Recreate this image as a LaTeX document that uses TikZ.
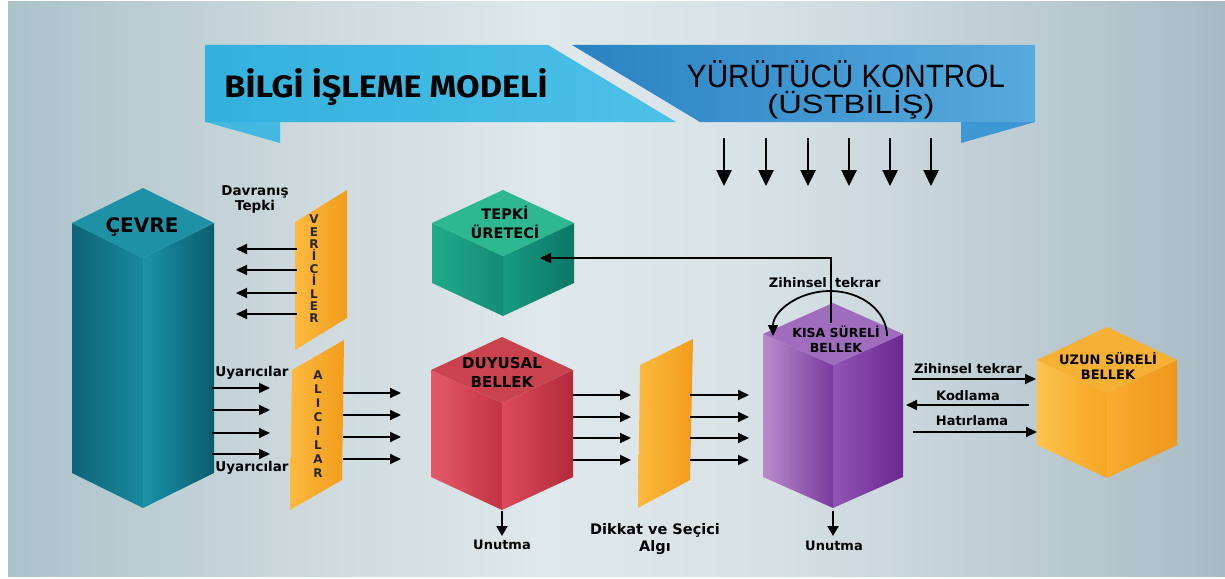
\documentclass[tikz,border=0pt]{standalone}
\usepackage{graphicx}
\usepackage{fontspec}
\setmainfont{DejaVu Sans}
\newfontfamily\titlef{Fira Sans}
\newfontfamily\arialf{Liberation Sans}
\usetikzlibrary{arrows.meta}
% colours
\definecolor{bg1}{HTML}{ABC2C9}
\definecolor{bg2}{HTML}{CDD9DD}
\definecolor{bg3}{HTML}{DFE8EB}
\definecolor{bg4}{HTML}{D8E2E6}
\definecolor{bg5}{HTML}{B5C6CD}
\definecolor{bg6}{HTML}{A7BAC2}
\pgfdeclarehorizontalshading{bgsh}{100bp}{color(0bp)=(bg1); color(25bp)=(bg1); color(37bp)=(bg2); color(47bp)=(bg3); color(56bp)=(bg4); color(70bp)=(bg5); color(75bp)=(bg6); color(100bp)=(bg6)}
\definecolor{banA}{HTML}{33B1DD}
\definecolor{banB}{HTML}{4DC1E8}
\definecolor{banfold}{HTML}{45B8E2}
\definecolor{darkA}{HTML}{2A82C3}
\definecolor{darkB}{HTML}{56AADD}
\definecolor{darkfold}{HTML}{3E97D2}
\definecolor{cevtop}{HTML}{1F91A4}
\definecolor{cevla}{HTML}{0D6376}
\definecolor{cevlb}{HTML}{1A8A9D}
\definecolor{cevra}{HTML}{1A94A8}
\definecolor{cevrb}{HTML}{0B5C6D}
\definecolor{teptop}{HTML}{2DB891}
\definecolor{tepla}{HTML}{22AA88}
\definecolor{teplb}{HTML}{128C76}
\definecolor{tepra}{HTML}{179A80}
\definecolor{teprb}{HTML}{0C7868}
\definecolor{duytop}{HTML}{C9434F}
\definecolor{duyla}{HTML}{E45A69}
\definecolor{duylb}{HTML}{C23244}
\definecolor{duyra}{HTML}{DC4B5C}
\definecolor{duyrb}{HTML}{B3293B}
\definecolor{kistop}{HTML}{A06CBD}
\definecolor{kisla}{HTML}{B88CCB}
\definecolor{kislb}{HTML}{7A3A9E}
\definecolor{kisra}{HTML}{9154B5}
\definecolor{kisrb}{HTML}{6A2890}
\definecolor{uzutop}{HTML}{F6B034}
\definecolor{uzula}{HTML}{FDC24C}
\definecolor{uzulb}{HTML}{F5A624}
\definecolor{uzura}{HTML}{F8AC30}
\definecolor{uzurb}{HTML}{EE961C}
\definecolor{panA}{HTML}{FBBA40}
\definecolor{panB}{HTML}{F39C1A}
\newcommand\prism[7]{%
 \coordinate (#1-t) at (#2,#3);
 \coordinate (#1-l) at ({#2-#4},{#3+#5});
 \coordinate (#1-c) at (#2,{#3+2*#5});
 \coordinate (#1-r) at ({#2+#4},{#3+#5});
 \coordinate (#1-lb) at ({#2-#4},{#3+#5+#6});
 \coordinate (#1-b) at (#2,{#3+2*#5+#6});
 \coordinate (#1-rb) at ({#2+#4},{#3+#5+#6});
 \shade[left color=#7la,right color=#7lb] (#1-l) -- (#1-c) -- (#1-b) -- (#1-lb) -- cycle;
 \shade[left color=#7ra,right color=#7rb] (#1-c) -- (#1-r) -- (#1-rb) -- (#1-b) -- cycle;
 \fill[#7top] (#1-t) -- (#1-r) -- (#1-c) -- (#1-l) -- cycle;
}
\tikzset{
 arr/.style={line width=1.8pt,-{Triangle[length=11pt,width=10pt]}},
 bigarr/.style={line width=2.6pt,-{Triangle[length=16pt,width=15pt]}},
 downarr/.style={line width=2.2pt,-{Triangle[length=10pt,width=11pt]}},
 lbl/.style={font=\fontsize{13}{15}\selectfont\bfseries,inner sep=0pt,align=center},
 cubelbl/.style={font=\fontsize{14.5}{19}\selectfont\bfseries,inner sep=0pt,align=center},
 panlbl/.style={font=\fontsize{12}{12.4}\selectfont\bfseries,inner sep=0pt,align=center,text=black!85},
}
\begin{document}
\begin{tikzpicture}[x=1pt,y=-1pt]
\useasboundingbox (0,0) rectangle (1225,578);
\fill[white] (0,0) rectangle (1225,578);
\shade[shading=bgsh] (8,2) rectangle (1225,576);

% banners
\shade[left color=banA,right color=banB] (205,45) -- (548,45) -- (676,122) -- (205,122) -- cycle;
\fill[banfold] (206,122) -- (280,122) -- (280,143) -- cycle;
\shade[left color=darkA,right color=darkB] (572,45) -- (1035,45) -- (1035,122) -- (700,122) -- cycle;
\fill[darkfold] (961,122) -- (1035,122) -- (961,143) -- cycle;
\node[anchor=base,inner sep=0pt] (title) at (386,97) {\resizebox{323pt}{29pt}{\titlef\bfseries BİLGİ İŞLEME MODELİ}};
\node[anchor=base,inner sep=0pt] (yk) at (846,87) {\resizebox{318pt}{27pt}{\arialf YÜRÜTÜCÜ KONTROL}};
\node[anchor=base,inner sep=0pt] (ub) at (851,113) {\resizebox{167pt}{23pt}{\arialf (ÜSTBİLİŞ)}};

% top arrows
\foreach \i/\x in {1/724,2/766,3/808,4/849,5/890,6/931}{
 \coordinate (ka\i) at (\x,138);
 \coordinate (kb\i) at (\x,186);
 \draw[bigarr] (ka\i) -- (kb\i);
}

% prisms
\prism{cev}{143}{188}{71}{35}{250}{cev}
\prism{tep}{503}{190}{71}{33}{60}{tep}
\prism{duy}{502}{337}{71}{33}{107}{duy}
\prism{kis}{833}{303}{70}{31}{143}{kis}
\prism{uzu}{1107}{327}{70}{33}{85}{uzu}

\node[font=\fontsize{20}{22}\selectfont\bfseries,inner sep=0pt] (cevt) at (142,227) {ÇEVRE};
\node[cubelbl] (tept) at (505,222) {TEPKİ\\ÜRETECİ};
\node[cubelbl,font=\fontsize{15}{19}\selectfont\bfseries] (duyt) at (502,372) {DUYUSAL\\BELLEK};
\node[cubelbl,font=\fontsize{12.5}{14.5}\selectfont\bfseries] (kist) at (836,339) {KISA SÜRELİ\\BELLEK};
\node[cubelbl,font=\fontsize{13}{15}\selectfont\bfseries] (uzut) at (1108,366) {UZUN SÜRELİ\\BELLEK};

% panels
\shade[left color=panA,right color=panB] (295,222) -- (347,190) -- (347,318) -- (295,350) -- cycle;
\shade[left color=panA,right color=panB] (292,370) -- (344,340) -- (342,480) -- (290,510) -- cycle;
\shade[left color=panA,right color=panB] (640,365) -- (693,339) -- (690,480) -- (638,508) -- cycle;
\node[panlbl] (ver) at (314,269) {V\\E\\R\\İ\\C\\İ\\L\\E\\R};
\node[panlbl,font=\fontsize{12}{14}\selectfont\bfseries] (ali) at (318,424) {A\\L\\I\\C\\I\\L\\A\\R};

% labels
\node[lbl,font=\fontsize{13.5}{15}\selectfont\bfseries] (dav) at (255,199) {Davranış\\Tepki};
\node[lbl,font=\fontsize{13.5}{15}\selectfont\bfseries] (uy1) at (252,373) {Uyarıcılar};
\node[lbl,font=\fontsize{13.5}{15}\selectfont\bfseries] (uy2) at (252,468) {Uyarıcılar};
\node[lbl,font=\fontsize{14.5}{17}\selectfont\bfseries] (dik) at (655,539) {Dikkat ve Seçici\\Algı};
\node[lbl] (un1) at (502,545) {Unutma};
\node[lbl] (un2) at (834,546) {Unutma};
\node[lbl,anchor=east] (zt1) at (827,283) {Zihinsel};
\node[lbl,anchor=west] (zt2) at (835,283) {tekrar};
\node[lbl] (zr) at (968,369) {Zihinsel tekrar};
\node[lbl] (kod) at (968,396) {Kodlama};
\node[lbl] (hat) at (972,421) {Hatırlama};

% arrows left of VERICILER
\foreach \i/\y in {1/249,2/270,3/293,4/314}{
 \coordinate (vs\i) at (297,\y); \coordinate (ve\i) at (236,\y);
 \draw[arr] (vs\i) -- (ve\i);
}
% Uyaricilar arrows
\foreach \i/\y in {1/388,2/410,3/433,4/454}{
 \coordinate (us\i) at (212,\y); \coordinate (ue\i) at (270,\y);
 \draw[arr] (us\i) -- (ue\i);
}
% from ALICILAR
\foreach \i/\y in {1/393,2/415,3/437,4/459}{
 \coordinate (as\i) at (343,\y); \coordinate (ae\i) at (401,\y);
 \draw[arr] (as\i) -- (ae\i);
}
% from DUYUSAL and from DIKKAT
\foreach \i/\y in {1/395,2/417,3/438,4/460}{
 \coordinate (ds\i) at (573,\y); \coordinate (de\i) at (631,\y);
 \draw[arr] (ds\i) -- (de\i);
 \coordinate (ps\i) at (690,\y); \coordinate (pe\i) at (749,\y);
 \draw[arr] (ps\i) -- (pe\i);
}
% to TEPKI URETECI
\coordinate (kup) at (831,323);
\coordinate (kbend) at (831,258);
\coordinate (tin) at (540,258);
\draw[arr] (kup) -- (kbend) -- (tin);
% rehearsal loop
\coordinate (ls) at (887,336);
\draw[arr] (ls) arc[start angle=0,end angle=180,x radius=57pt,y radius=45pt];
% STM <-> LTM
\coordinate (z1) at (912,379); \coordinate (z2) at (1036,379);
\draw[arr] (z1) -- (z2);
\coordinate (k1) at (1029,405); \coordinate (k2) at (906,405);
\draw[arr] (k1) -- (k2);
\coordinate (h1) at (913,432); \coordinate (h2) at (1037,432);
\draw[arr] (h1) -- (h2);
% forgetting
\coordinate (f1a) at (502,511); \coordinate (f1b) at (502,536);
\draw[downarr] (f1a) -- (f1b);
\coordinate (f2a) at (833,511); \coordinate (f2b) at (833,536);
\draw[downarr] (f2a) -- (f2b);
\end{tikzpicture}
\end{document}
